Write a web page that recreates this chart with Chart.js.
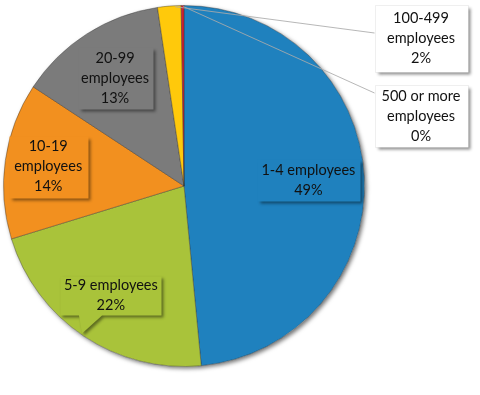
<!DOCTYPE html>
<html>
<head>
<meta charset="utf-8">
<script src="https://cdn.jsdelivr.net/npm/chart.js@4/dist/chart.umd.min.js"></script>
<style>
html, body { margin: 0; padding: 0; background: #fff; }
#wrap { width: 480px; height: 395px; }
</style>
</head>
<body>
<div id="wrap"><canvas id="pieChart"></canvas></div>
<script>
// data
const categories = ["1-4 employees", "5-9 employees", "10-19 employees", "20-99 employees", "100-499 employees", "500 or more employees"];
const shares = [48.5, 21.8, 14.0, 13.4, 2.1, 0.25];
const shareLabels = ["49%", "22%", "14%", "13%", "2%", "0%"];
const nameLines = [["1-4 employees"], ["5-9 employees"], ["10-19", "employees"], ["20-99", "employees"], ["100-499", "employees"], ["500 or more", "employees"]];
const sliceColors = ["#1f81be", "#a9c33a", "#f2901f", "#7b7b7b", "#ffc90b", "#cf2030"];

// label boxes: inside ones sit on the slice's mid angle, outside ones to the right
const labelBoxes = [
    { frac: 0.69, w: 103, h: 42 },
    { frac: 0.73, w: 101, h: 39, pointer: [-32, -9, -29] },
    { frac: 0.76, w: 79, h: 62 },
    { frac: 0.71, w: 75, h: 62 },
    { outside: true, dx: 56, cy: 33, w: 93, h: 67, lineY: 28 },
    { outside: true, dx: 56, cy: 111, w: 93, h: 62, lineY: 88 }
];

const FONT = "14.5px Lato, 'Open Sans', sans-serif";

function boxPath(ctx, x, y, w, h, pointer) {
    ctx.beginPath();
    ctx.moveTo(x, y);
    ctx.lineTo(x + w, y);
    ctx.lineTo(x + w, y + h);
    if (pointer) {
        const cx = x + w / 2;
        ctx.lineTo(cx + pointer[1], y + h);
        ctx.lineTo(cx + pointer[2], y + h + 18);
        ctx.lineTo(cx + pointer[0], y + h);
    }
    ctx.lineTo(x, y + h);
    ctx.closePath();
}

const pieShadow = {
    id: "pieShadow",
    beforeDatasetsDraw(chart) {
        const arc = chart.getDatasetMeta(0).data[0];
        if (!arc) return;
        const ctx = chart.ctx;
        ctx.save();
        ctx.shadowColor = "rgba(0,0,0,0.55)";
        ctx.shadowBlur = 4;
        ctx.shadowOffsetX = 2;
        ctx.shadowOffsetY = 2;
        ctx.fillStyle = "#ffffff";
        ctx.beginPath();
        ctx.arc(arc.x, arc.y, arc.outerRadius, 0, Math.PI * 2);
        ctx.fill();
        ctx.restore();
    }
};

const boxLabels = {
    id: "boxLabels",
    afterDatasetsDraw(chart) {
        const ctx = chart.ctx;
        const area = chart.chartArea;
        const arcs = chart.getDatasetMeta(0).data;
        ctx.save();
        ctx.font = FONT;
        ctx.textAlign = "center";
        ctx.textBaseline = "middle";
        arcs.forEach((arc, i) => {
            const p = arc.getProps(["x", "y", "startAngle", "endAngle", "outerRadius"]);
            const mid = (p.startAngle + p.endAngle) / 2;
            const box = labelBoxes[i];
            let cx, cy, fill;
            if (box.outside) {
                cx = area.right + box.dx;
                cy = area.top + box.cy;
                fill = "#ffffff";
                // leader line from the slice's top edge to the box
                const a = (mid + p.endAngle) / 2;
                const r = p.outerRadius - 1;
                ctx.strokeStyle = "rgba(170,170,170,0.85)";
                ctx.lineWidth = 1;
                ctx.beginPath();
                ctx.moveTo(p.x + Math.cos(a) * r, p.y + Math.sin(a) * r);
                ctx.lineTo(cx - box.w / 2, area.top + box.lineY);
                ctx.stroke();
            } else {
                cx = p.x + Math.cos(mid) * p.outerRadius * box.frac;
                cy = p.y + Math.sin(mid) * p.outerRadius * box.frac;
                fill = sliceColors[i];
            }
            const x = Math.round(cx - box.w / 2) + 0.5;
            const y = Math.round(cy - box.h / 2) + 0.5;
            ctx.save();
            ctx.shadowColor = "rgba(0,0,0,0.45)";
            ctx.shadowBlur = 3;
            ctx.shadowOffsetX = 2;
            ctx.shadowOffsetY = 2;
            ctx.fillStyle = fill;
            boxPath(ctx, x, y, box.w, box.h, box.pointer);
            ctx.fill();
            ctx.restore();
            if (box.outside) {
                ctx.strokeStyle = "rgba(0,0,0,0.06)";
                boxPath(ctx, x, y, box.w, box.h);
                ctx.stroke();
            }
            const lines = nameLines[i].concat([shareLabels[i]]);
            const lh = 20;
            const top = cy - (lines.length - 1) * lh / 2;
            ctx.fillStyle = "#111111";
            lines.forEach((t, k) => ctx.fillText(t, cx, top + k * lh));
        });
        ctx.restore();
    }
};

const ctx = document.getElementById("pieChart").getContext("2d");

let myChart = new Chart(ctx, {
    type: "pie",
    data: {
        labels: categories,
        datasets: [{
            data: shares,
            backgroundColor: sliceColors,
            borderColor: "rgba(50,50,50,0.4)",
            borderWidth: 1
        }]
    },
    options: {
        responsive: true,
        maintainAspectRatio: false,
        animation: false,
        layout: {
            padding: { left: 3, top: 5, right: 115, bottom: 28 }
        },
        plugins: {
            legend: { display: false },
            tooltip: { enabled: false }
        }
    },
    plugins: [pieShadow, boxLabels]
});
</script>
</body>
</html>
